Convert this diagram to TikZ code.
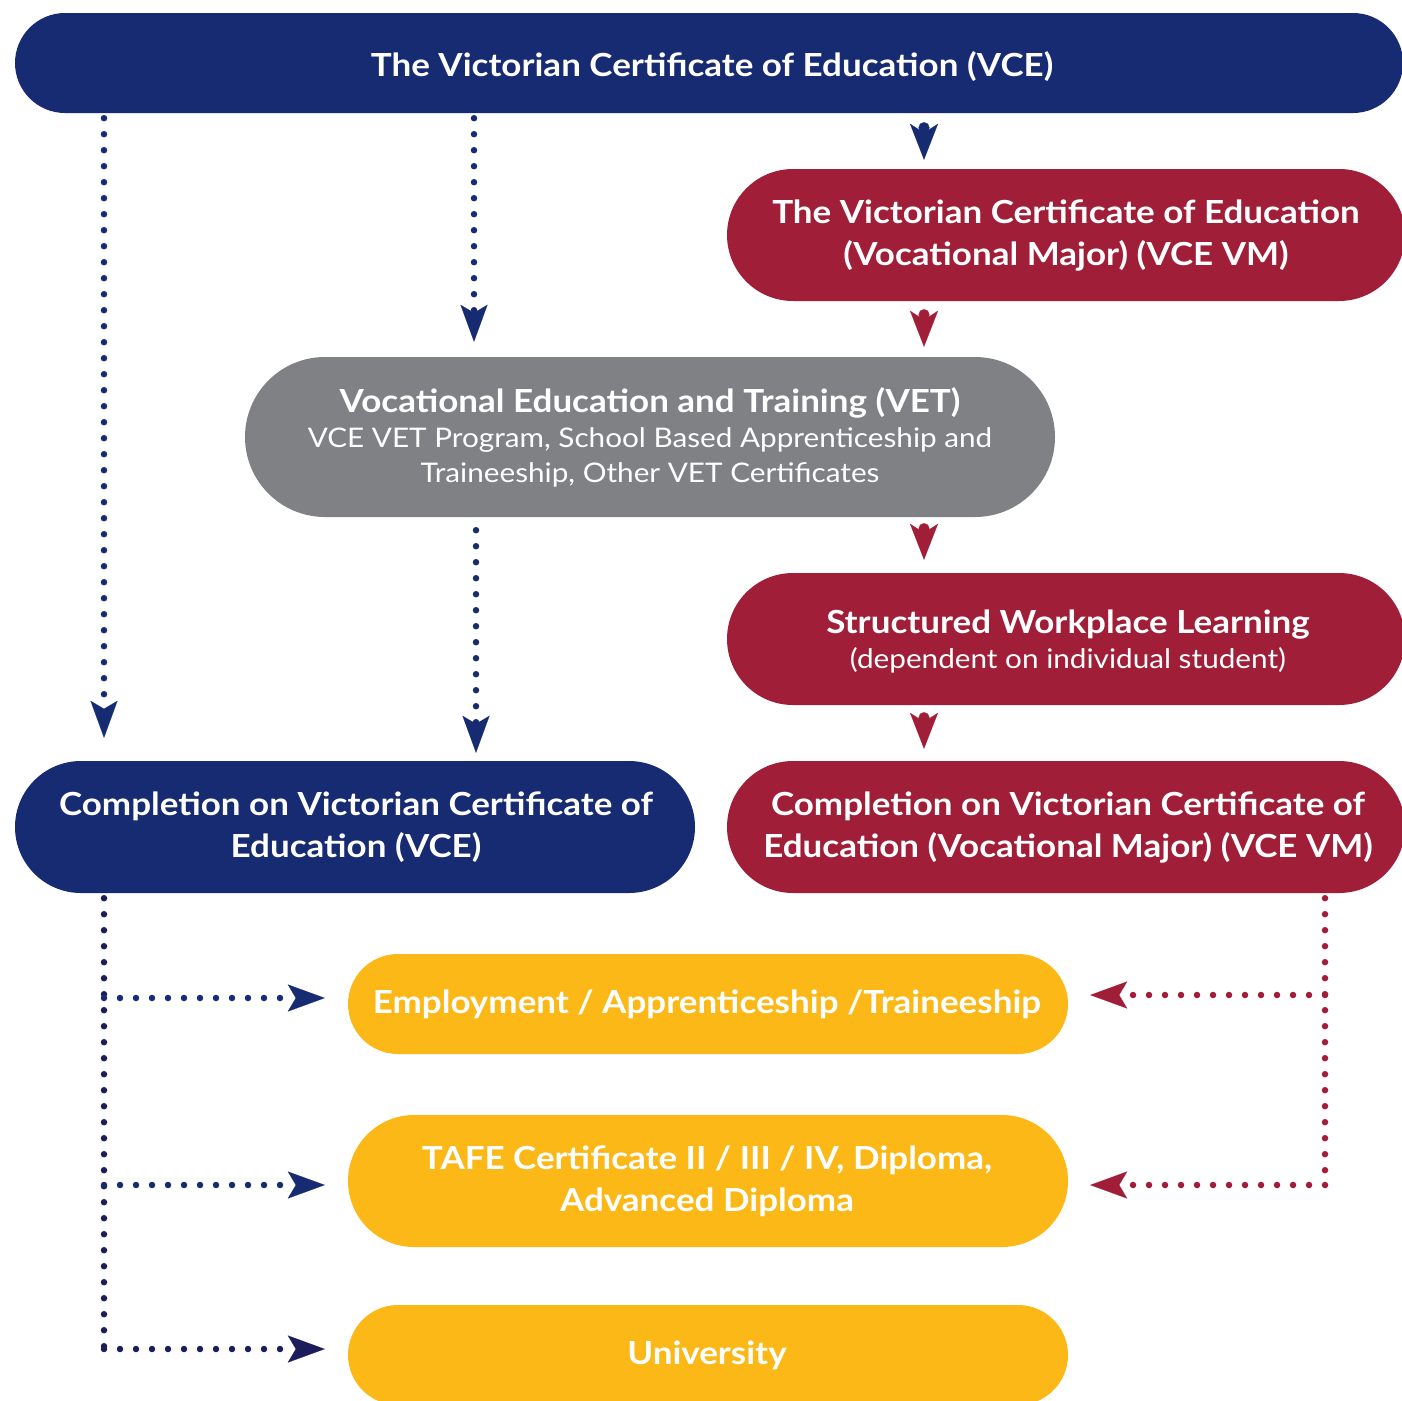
\documentclass[tikz,border=0pt]{standalone}
\usepackage{fontspec}
\setmainfont{Lato}[FakeStretch=1.1]
\usetikzlibrary{arrows.meta,shapes.misc}
\definecolor{vblue}{HTML}{172B73}
\definecolor{vred}{HTML}{A01E38}
\definecolor{vgray}{HTML}{808184}
\definecolor{vyellow}{HTML}{FBB817}
\definecolor{vdot}{HTML}{1E1D5C}
\begin{document}
\begin{tikzpicture}[x=1pt,y=-1pt,
  box/.style={rounded rectangle, inner sep=0pt, draw=none, minimum height=#1},
  ttl/.style={text=white, font=\bfseries\fontsize{31.8}{35}\selectfont, anchor=base, inner sep=0pt},
  subt/.style={text=white, font=\fontsize{27}{35}\selectfont, anchor=base, inner sep=0pt},
  dotline/.style={line width=6.5pt, line cap=round, dash pattern=on 0pt off 16pt},
  dottip/.style={-{Stealth[length=37pt,width=27pt,inset=8pt,line width=0.1pt]}},
  stem/.style={line width=1pt, {Circle[length=11pt,line width=0.1pt]}-{Stealth[length=36pt,width=28pt,inset=9pt,line width=0.1pt]}}
]
\useasboundingbox (0,0) rectangle (1402,1400);
\clip (0,0) rectangle (1402,1400);

% boxes
\node[box=100, minimum width=1388pt, fill=vblue] (vce) at (709,63) {};
\node[box=132, minimum width=678pt, fill=vred] (vcevm) at (1066,235) {};
\node[box=160, minimum width=810pt, fill=vgray] (vet) at (650,437) {};
\node[box=132, minimum width=678pt, fill=vred] (swl) at (1066,639) {};
\node[box=132, minimum width=680pt, fill=vblue] (cvce) at (355,827) {};
\node[box=132, minimum width=678pt, fill=vred] (cvm) at (1066,827) {};
\node[box=100, minimum width=720pt, fill=vyellow] (emp) at (708,1004) {};
\node[box=132, minimum width=720pt, fill=vyellow] (tafe) at (708,1181) {};
\node[box=100, minimum width=720pt, fill=vyellow] (uni) at (708,1355) {};

% texts
\node[ttl] (vcet) at (712,76) {The Victorian Certificate of Education (VCE)};
\node[ttl] (vma) at (1066,223) {The Victorian Certificate of Education};
\node[ttl] (vmb) at (1066,265) {(Vocational Major) (VCE VM)};
\node[ttl] (veta) at (650,412) {Vocational Education and Training (VET)};
\node[subt] (vetb) at (650,447) {VCE VET Program, School Based Apprenticeship and};
\node[subt] (vetc) at (650,482) {Traineeship, Other VET Certificates};
\node[ttl] (swla) at (1068,633) {Structured Workplace Learning};
\node[subt] (swlb) at (1068,668) {(dependent on individual student)};
\node[ttl] (cva) at (356,815) {Completion on Victorian Certificate of};
\node[ttl] (cvb) at (356,857) {Education (VCE)};
\node[ttl] (cma) at (1068,815) {Completion on Victorian Certificate of};
\node[ttl] (cmb) at (1068,857) {Education (Vocational Major) (VCE VM)};
\node[ttl] (empt) at (707,1013) {Employment / Apprenticeship /Traineeship};
\node[ttl] (tafa) at (707,1169) {TAFE Certificate II / III / IV, Diploma,};
\node[ttl] (tafb) at (707,1211) {Advanced Diploma};
\node[ttl] (unit) at (707,1364) {University};

% guide coordinates
\coordinate (L) at (104,0);
\coordinate (M) at (474,0);
\coordinate (M2) at (476,0);
\coordinate (S) at (924,0);
\coordinate (R) at (1325,0);
\coordinate (bl1) at (104,998);
\coordinate (bl2) at (104,1185);
\coordinate (bl3) at (104,1349);
\coordinate (br1) at (1325,995);
\coordinate (br2) at (1325,1185);

% dotted connectors (VCE pathway)
\draw[dotline, vblue, dottip, shorten <=5pt, shorten >=23pt] (vce.south -| L) -- (cvce.north -| L);
\draw[dotline, vblue, dottip, shorten <=5pt, shorten >=15pt] (vce.south -| M) -- (vet.north -| M);
\draw[dotline, vblue, dottip, shorten <=13pt, shorten >=8pt] (vet.south -| M2) -- (cvce.north -| M2);

% solid stems (VCE VM pathway)
\draw[stem, vblue, shorten <=9pt, shorten >=9pt] (vce.south -| S) -- (vcevm.north -| S);
\draw[stem, vred, shorten <=8pt, shorten >=10pt] (vcevm.south -| S) -- (vet.north -| S);
\draw[stem, vred, shorten <=6pt, shorten >=13pt] (vet.south -| S) -- (swl.north -| S);
\draw[stem, vred, shorten <=7pt, shorten >=12pt] (swl.south -| S) -- (cvm.north -| S);

% left outcomes
\draw[dotline, vdot, shorten <=5pt] (cvce.south -| L) -- (bl3);
\draw[dotline, vblue, dottip, shorten >=23pt] (bl1) -- (bl1 -| emp.west);
\draw[dotline, vblue, dottip, shorten >=23pt] (bl2) -- (bl2 -| tafe.west);
\draw[dotline, vdot, dottip, shorten >=23pt] (bl3) -- (bl3 -| uni.west);

% right outcomes
\draw[dotline, vred, shorten <=5pt] (cvm.south -| R) -- (br2);
\draw[dotline, vred, dottip, shorten >=22pt] (br1) -- (br1 -| emp.east);
\draw[dotline, vred, dottip, shorten >=22pt] (br2) -- (br2 -| tafe.east);
\end{tikzpicture}
\end{document}
